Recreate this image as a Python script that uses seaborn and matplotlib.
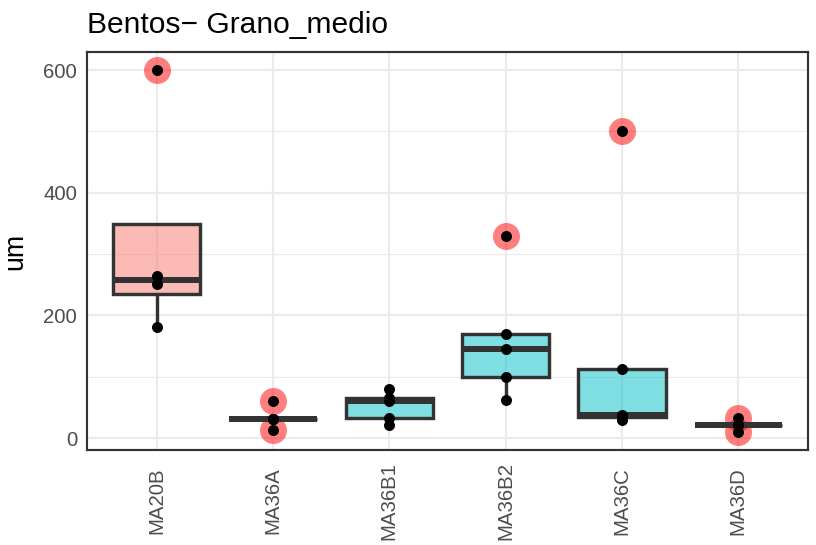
import pandas as pd
import seaborn as sns
import matplotlib.pyplot as plt
from matplotlib.ticker import MultipleLocator

# valores (um)
sitios = ["MA20B", "MA36A", "MA36B1", "MA36B2", "MA36C", "MA36D"]
ma20b = [181, 252, 265, 600]
ma36a = [13, 31, 31, 31, 60]
ma36b1 = [22, 33, 60, 65, 80]
ma36b2 = [62, 100, 145, 170, 330]
ma36c = [29, 34, 38, 113, 500]
ma36d = [10, 22, 22, 22, 33]
grupo_color = {"MA20B": "#F8766D", "MA36A": "#00BFC4", "MA36B1": "#00BFC4",
               "MA36B2": "#00BFC4", "MA36C": "#00BFC4", "MA36D": "#00BFC4"}

valores = [ma20b, ma36a, ma36b1, ma36b2, ma36c, ma36d]
df = pd.DataFrame({
    "sitio": [s for s, v in zip(sitios, valores) for _ in v],
    "um": [x for v in valores for x in v],
})

sns.set_style("white")
plt.rcParams["font.family"] = ["Liberation Sans", "DejaVu Sans"]

fig = plt.figure(figsize=(816 / 144, 545 / 144), dpi=144)
ax = fig.add_axes([87 / 816, 1 - 450 / 545, 721 / 816, 398 / 545])

sns.boxplot(data=df, x="sitio", y="um", hue="sitio", palette=grupo_color,
            order=sitios, legend=False, width=0.75, linecolor="#333333",
            linewidth=1.7, showcaps=False, saturation=1, ax=ax,
            medianprops={"linewidth": 3.0, "color": "#333333"},
            flierprops={"marker": "o", "markerfacecolor": (1, 0, 0, 0.5),
                        "markeredgecolor": "none", "markersize": 13.5})

for p in ax.patches:
    r, g, b, _ = p.get_facecolor()
    p.set_facecolor((r, g, b, 0.5))

sns.stripplot(data=df, x="sitio", y="um", order=sitios, jitter=False,
              color="black", size=5.5, linewidth=0, ax=ax, zorder=5)

ax.set_xlim(-0.6, 5.6)
ax.set_ylim(-19.5, 629.5)

# rejilla estilo theme_bw
ax.set_axisbelow(True)
ax.yaxis.set_major_locator(MultipleLocator(200))
ax.yaxis.set_minor_locator(MultipleLocator(100))
ax.grid(True, which="major", axis="both", color="#EBEBEB", linewidth=1.07)
ax.grid(True, which="minor", axis="y", color="#EBEBEB", linewidth=0.55)

for s in ax.spines.values():
    s.set_color("#333333")
    s.set_linewidth(1.07)

ax.tick_params(axis="both", which="major", length=2.75, width=1.07,
               color="#333333", labelcolor="#4D4D4D", labelsize=10.2)
ax.tick_params(axis="y", which="minor", length=0)
ax.tick_params(axis="y", pad=2.2)
ax.tick_params(axis="x", pad=22.7)
for lab in ax.get_xticklabels():
    lab.set_rotation(90)
    lab.set_ha("center")
    lab.set_va("center")

ax.set_xlabel("")
ax.set_ylabel("um", fontsize=13.3, color="black")
ax.yaxis.set_label_coords(-0.0818, 0.5)

fig.text(87 / 816, 1 - 33 / 545, "Bentos\u2212 Grano_medio", fontsize=15,
         ha="left", va="baseline", color="black")

fig.savefig("out.png", dpi=144)
